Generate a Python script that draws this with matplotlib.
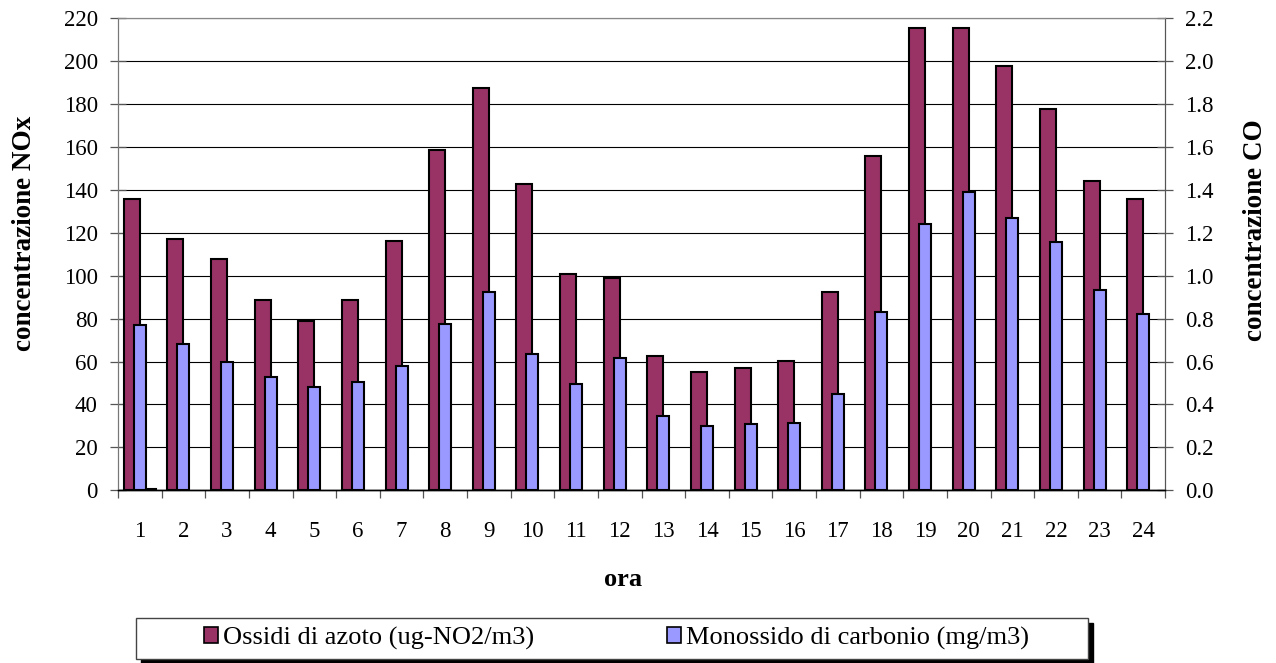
import numpy as np
import matplotlib
matplotlib.use('Agg')
import matplotlib.pyplot as plt
from matplotlib.patches import Rectangle, Patch

plt.rcParams['font.family'] = ['Liberation Serif', 'DejaVu Serif']

# dati orari
ore = list(range(1, 25))
nox = [136, 117, 108, 88.5, 79, 88.5, 116, 158.5, 187.5, 143, 101, 99,
       62.5, 55, 57, 60.5, 92.5, 156, 215.5, 215.5, 198, 177.5, 144, 136]
co = [0.77, 0.68, 0.60, 0.53, 0.48, 0.505, 0.58, 0.775, 0.925, 0.635, 0.495, 0.615,
      0.345, 0.30, 0.31, 0.315, 0.45, 0.83, 1.24, 1.39, 1.27, 1.155, 0.935, 0.82]
# terza serie quasi vuota (solo ora 1)
extra = [0.005] + [0] * 23

lbl_nox = 'Ossidi di azoto (ug-NO2/m3)'
lbl_co = 'Monossido di carbonio (mg/m3)'
c_nox = '#993366'
c_co = '#9999FF'

W, H = 1276, 663
fig = plt.figure(figsize=(W / 100, H / 100), dpi=100)
ax = fig.add_axes([118 / W, 1 - 490.3 / H, (1165 - 118) / W, (490.3 - 18.3) / H])
ax2 = ax.twinx()

x = np.array(ore)
# barre NOx allineate a sinistra del centro categoria
ax.bar(x, nox, width=-0.367, align='edge', color=c_nox, edgecolor='black',
       linewidth=1.5, zorder=3, label=lbl_nox)
ax.set_ylim(0, 220)
ax.set_yticks(range(0, 221, 20))
ax.grid(axis='y', color='black', linewidth=0.8, zorder=0)
ax.set_axisbelow(True)

ax2.bar(x, co, width=0.275, color=c_co, edgecolor='black', linewidth=1.5,
        zorder=3, label=lbl_co)
ex = np.array(extra)
m = ex > 0
ax2.bar(x[m] + 0.137, ex[m], width=0.237, align='edge', color='black',
        edgecolor='black', linewidth=1.5, zorder=3)
ax2.set_ylim(0, 2.2)
ax2.set_yticks(np.arange(0, 2.21, 0.2))
ax2.set_yticklabels([f'{v:.1f}' for v in np.arange(0, 2.21, 0.2)])

ax.set_xlim(0.5, 24.5)
ax.set_xticks(np.arange(0.5, 24.6, 1))
ax.set_xticklabels([])
ax.set_xticks(x, minor=True)
ax.set_xticklabels([str(o) for o in ore], minor=True)
ax.tick_params(axis='x', which='major', direction='out', length=6, color='#555555', width=0.9)
ax.tick_params(axis='x', which='minor', length=0, pad=22, labelsize=16.5)
ax.tick_params(axis='y', direction='inout', length=11, color='#555555', width=0.9,
               pad=9, labelsize=16.5)
ax2.tick_params(axis='y', direction='inout', length=11, color='#555555', width=0.9,
                pad=9, labelsize=16.5)

for a in (ax, ax2):
    a.spines['top'].set_color('#888888')
    a.spines['left'].set_color('#777777')
    a.spines['right'].set_color('#555555')
    a.spines['bottom'].set_color('black')
    a.spines['bottom'].set_linewidth(1.0)

fig.text(25 / W, 1 - 233 / H, 'concentrazione NOx', rotation=90, ha='center',
         va='center', fontsize=19.5, fontweight='bold')
fig.text(1256 / W, 1 - 230 / H, 'concentrazione CO', rotation=90, ha='center',
         va='center', fontsize=19.5, fontweight='bold')
fig.text(623 / W, 1 - 579 / H, 'ora', ha='center', va='center', fontsize=19,
         fontweight='bold')

# riquadro legenda con ombra
bx0, by0, bx1, by1 = 136, 618, 1088, 659
fig.patches.append(Rectangle((bx0 / W + 5 / W, 1 - by1 / H - 5 / H), (bx1 - bx0) / W,
                             (by1 - by0) / H, transform=fig.transFigure,
                             facecolor='black', edgecolor='black', zorder=1))
fig.patches.append(Rectangle((bx0 / W, 1 - by1 / H), (bx1 - bx0) / W, (by1 - by0) / H,
                             transform=fig.transFigure, facecolor='white',
                             edgecolor='#444444', linewidth=1.0, zorder=2))
handles = [Patch(facecolor=c_nox, edgecolor='black', linewidth=1.2, label=lbl_nox),
           Patch(facecolor=c_co, edgecolor='black', linewidth=1.2, label=lbl_co)]
leg = fig.legend(handles=handles, ncol=2, loc='center',
                 bbox_to_anchor=(616.5 / W, 1 - 638.5 / H),
                 frameon=False, fontsize=19, handlelength=0.53, handleheight=0.53,
                 handletextpad=0.19, columnspacing=5.0, borderpad=0)
leg.set_zorder(3)

fig.savefig('out.png', dpi=100)
